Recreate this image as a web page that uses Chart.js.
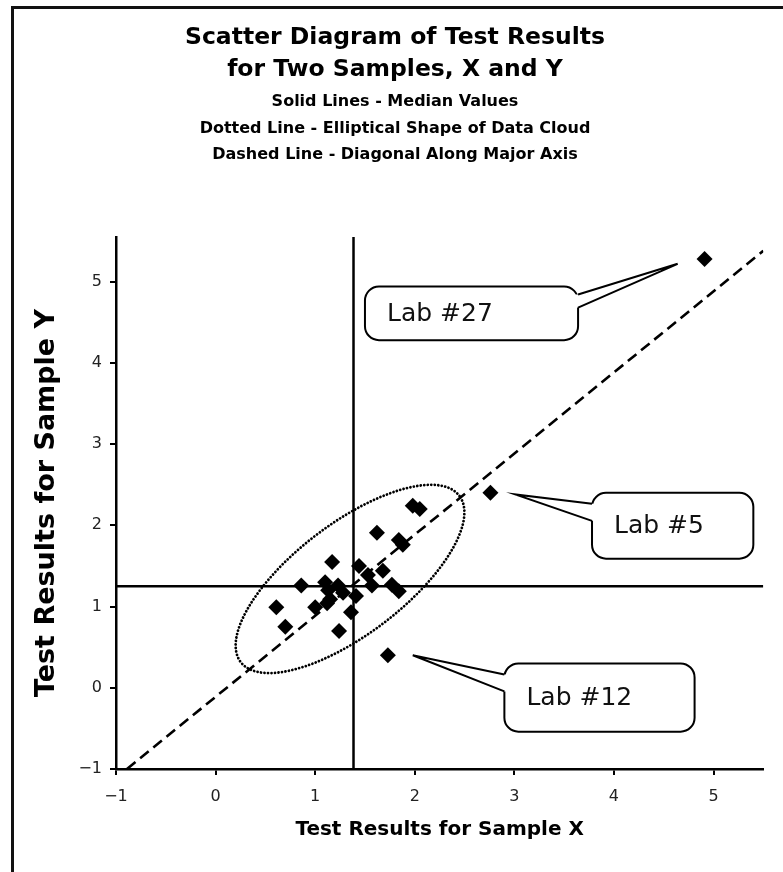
<!DOCTYPE html>
<html><head><meta charset="utf-8">
<script src="https://cdn.jsdelivr.net/npm/chart.js@4/dist/chart.umd.min.js"></script>
<style>
html,body{margin:0;padding:0;background:#fff;overflow:hidden;width:783px;height:872px;}
#frame{position:absolute;left:11px;top:6px;width:900px;height:1000px;border-left:3px solid #111;border-top:3px solid #111;}
#wrap{position:absolute;left:0;top:0;width:783px;height:872px;}
</style></head><body>
<div id="frame"></div>
<div id="wrap"><canvas id="c" width="783" height="872"></canvas></div>
<script>
// ---- data ----
const LAB_X = [1.98, 2.05, 1.62, 1.84, 1.88, 1.17, 1.44, 1.53, 1.68, 1.57, 1.77, 1.84, 0.86, 1.10, 1.23, 1.13, 1.15, 1.28, 1.41, 1.12, 1.00, 1.36, 0.61, 0.70, 1.24, 1.73, 2.76, 4.91];
const LAB_Y = [2.24, 2.20, 1.91, 1.82, 1.76, 1.55, 1.50, 1.39, 1.44, 1.26, 1.27, 1.19, 1.26, 1.30, 1.26, 1.20, 1.09, 1.17, 1.13, 1.04, 0.99, 0.93, 0.99, 0.75, 0.70, 0.40, 2.40, 5.28];
const MEDIAN_X = 1.385;
const MEDIAN_Y = 1.25;
const DIAG_X = [-0.89, 5.5];
const DIAG_Y = [-1, 5.38];
const X_TICKS = [-1, 0, 1, 2, 3, 4, 5];
const Y_TICKS = [-1, 0, 1, 2, 3, 4, 5];
const X_RANGE = [-1, 5.5];
const Y_RANGE = [-1, 5.55];
const ELLIPSE_CENTER = [1.35, 1.34];
const ELLIPSE_MAJOR = [1.10, 1.02];
const ELLIPSE_MINOR = [-0.33, 0.55];
const CALLOUT_TEXT = ['Lab #27', 'Lab #5', 'Lab #12'];
const CALLOUT_TIP_X = [4.64, 3.01, 1.98];
const CALLOUT_TIP_Y = [5.22, 2.38, 0.40];
const CALLOUT_BOX_X = [[1.50, 3.64], [3.78, 5.40], [2.90, 4.81]];
const CALLOUT_BOX_Y = [[4.94, 4.28], [2.40, 1.59], [0.30, -0.54]];
const CALLOUT_SIDE = ['right', 'left', 'left'];
const TITLE_LINES = ['Scatter Diagram of Test Results', 'for Two Samples, X and Y'];
const SUBTITLE_LINES = ['Solid Lines - Median Values', 'Dotted Line - Elliptical Shape of Data Cloud', 'Dashed Line - Diagonal Along Major Axis'];
const X_TITLE = 'Test Results for Sample X';
const Y_TITLE = 'Test Results for Sample Y';

const FONT = "'DejaVu Sans', Verdana, sans-serif";

function roundRectPath(ctx, x0, y0, x1, y1, r) {
  ctx.beginPath();
  ctx.moveTo(x0 + r, y0);
  ctx.lineTo(x1 - r, y0);
  ctx.arcTo(x1, y0, x1, y0 + r, r);
  ctx.lineTo(x1, y1 - r);
  ctx.arcTo(x1, y1, x1 - r, y1, r);
  ctx.lineTo(x0 + r, y1);
  ctx.arcTo(x0, y1, x0, y1 - r, r);
  ctx.lineTo(x0, y0 + r);
  ctx.arcTo(x0, y0, x0 + r, y0, r);
  ctx.closePath();
}

const overlay = {
  id: 'overlay',
  beforeDatasetsDraw(chart) {
    const ctx = chart.ctx, xs = chart.scales.x, ys = chart.scales.y;
    ctx.save();
    ctx.beginPath();
    for (let i = 0; i <= 720; i++) {
      const t = i * Math.PI / 360;
      const dx = ELLIPSE_CENTER[0] + Math.cos(t) * ELLIPSE_MAJOR[0] + Math.sin(t) * ELLIPSE_MINOR[0];
      const dy = ELLIPSE_CENTER[1] + Math.cos(t) * ELLIPSE_MAJOR[1] + Math.sin(t) * ELLIPSE_MINOR[1];
      const px = xs.getPixelForValue(dx), py = ys.getPixelForValue(dy);
      if (i === 0) ctx.moveTo(px, py); else ctx.lineTo(px, py);
    }
    ctx.setLineDash([0.01, 3.5]);
    ctx.lineCap = 'round';
    ctx.lineWidth = 2.8;
    ctx.strokeStyle = '#000';
    ctx.stroke();
    ctx.restore();
  },
  afterDatasetsDraw(chart) {
    const ctx = chart.ctx, xs = chart.scales.x, ys = chart.scales.y;
    ctx.save();
    for (let i = 0; i < CALLOUT_TEXT.length; i++) {
      const x0 = xs.getPixelForValue(CALLOUT_BOX_X[i][0]);
      const x1 = xs.getPixelForValue(CALLOUT_BOX_X[i][1]);
      const y0 = ys.getPixelForValue(CALLOUT_BOX_Y[i][0]);
      const y1 = ys.getPixelForValue(CALLOUT_BOX_Y[i][1]);
      const tx = xs.getPixelForValue(CALLOUT_TIP_X[i]);
      const ty = ys.getPixelForValue(CALLOUT_TIP_Y[i]);
      roundRectPath(ctx, x0, y0, x1, y1, 14);
      ctx.fillStyle = '#fff';
      ctx.fill();
      ctx.lineWidth = 2;
      ctx.strokeStyle = '#000';
      ctx.setLineDash([]);
      ctx.stroke();
      const side = CALLOUT_SIDE[i];
      const bx = side === 'left' ? x0 : x1;
      const inward = side === 'left' ? 3 : -3;
      const b1 = side === 'left' ? y0 + 11 : y0 + 8;
      const b2 = side === 'left' ? y0 + 28 : y0 + 21;
      ctx.beginPath();
      ctx.moveTo(bx + inward, b1);
      ctx.lineTo(bx, b1);
      ctx.lineTo(tx, ty);
      ctx.lineTo(bx, b2);
      ctx.lineTo(bx + inward, b2);
      ctx.closePath();
      ctx.fillStyle = '#fff';
      ctx.fill();
      ctx.beginPath();
      ctx.moveTo(bx, b1);
      ctx.lineTo(tx, ty);
      ctx.lineTo(bx, b2);
      ctx.lineJoin = 'miter';
      ctx.stroke();
      ctx.fillStyle = '#111';
      ctx.font = '25px ' + FONT;
      ctx.textAlign = 'left';
      ctx.textBaseline = 'middle';
      ctx.fillText(CALLOUT_TEXT[i], x0 + 22, (y0 + y1) / 2 + 1);
    }
    ctx.restore();
  }
};

const tickFmt = v => String(v).replace('-', '\u2212');

new Chart(document.getElementById('c').getContext('2d'), {
  type: 'scatter',
  data: {
    datasets: [
      {
        label: 'Labs',
        data: LAB_X.map((x, i) => ({x: x, y: LAB_Y[i]})),
        pointStyle: 'rectRot', pointRadius: 8, pointHoverRadius: 8,
        backgroundColor: '#000', borderColor: '#000', borderWidth: 0, order: 0
      },
      {
        label: 'Median X',
        data: [{x: MEDIAN_X, y: Y_RANGE[0]}, {x: MEDIAN_X, y: Y_RANGE[1]}],
        showLine: true, pointRadius: 0, borderColor: '#000', borderWidth: 2.5, order: 1
      },
      {
        label: 'Median Y',
        data: [{x: X_RANGE[0], y: MEDIAN_Y}, {x: X_RANGE[1], y: MEDIAN_Y}],
        showLine: true, pointRadius: 0, borderColor: '#000', borderWidth: 2.5, order: 1
      },
      {
        label: 'Diagonal',
        data: DIAG_X.map((x, i) => ({x: x, y: DIAG_Y[i]})),
        showLine: true, pointRadius: 0, borderColor: '#000', borderWidth: 2.6, borderDash: [11, 6], order: 1
      }
    ]
  },
  options: {
    responsive: false, animation: false, devicePixelRatio: 1,
    layout: {padding: {left: 26.7, right: 19.7, top: 0, bottom: 0}},
    plugins: {
      legend: {display: false},
      tooltip: {enabled: false},
      title: {
        display: true, text: TITLE_LINES, color: '#000',
        font: {family: FONT, size: 23.5, weight: 'bold', lineHeight: 1.362},
        padding: {top: 22, bottom: 0}
      },
      subtitle: {
        display: true, text: SUBTITLE_LINES, color: '#000',
        font: {family: FONT, size: 16, weight: 'bold', lineHeight: 1.656},
        padding: {top: 3, bottom: 68.5}
      }
    },
    scales: {
      x: {
        type: 'linear', min: X_RANGE[0], max: X_RANGE[1],
        afterBuildTicks: s => { s.ticks = X_TICKS.map(v => ({value: v})); },
        afterFit: s => { s.height = 103; },
        grid: {drawOnChartArea: false, drawTicks: true, tickLength: 6, color: '#000', lineWidth: 2},
        border: {display: true, color: '#000', width: 2.5},
        ticks: {font: {family: FONT, size: 16}, color: '#222', padding: 12, callback: tickFmt},
        title: {display: true, text: X_TITLE, color: '#000', font: {family: FONT, size: 20, weight: 'bold'}, padding: {top: 0, bottom: 30}}
      },
      y: {
        type: 'linear', min: Y_RANGE[0], max: Y_RANGE[1],
        afterBuildTicks: s => { s.ticks = Y_TICKS.map(v => ({value: v})); },
        afterFit: s => { s.width = 89.3; },
        grid: {drawOnChartArea: false, drawTicks: true, tickLength: 6, color: '#000', lineWidth: 2},
        border: {display: true, color: '#000', width: 2.5},
        ticks: {font: {family: FONT, size: 16}, color: '#222', padding: 8, callback: tickFmt},
        title: {display: true, text: Y_TITLE, color: '#000', font: {family: FONT, size: 27, weight: 'bold'}, padding: {top: 4, bottom: 0}}
      }
    }
  },
  plugins: [overlay]
});
</script>
</body></html>
